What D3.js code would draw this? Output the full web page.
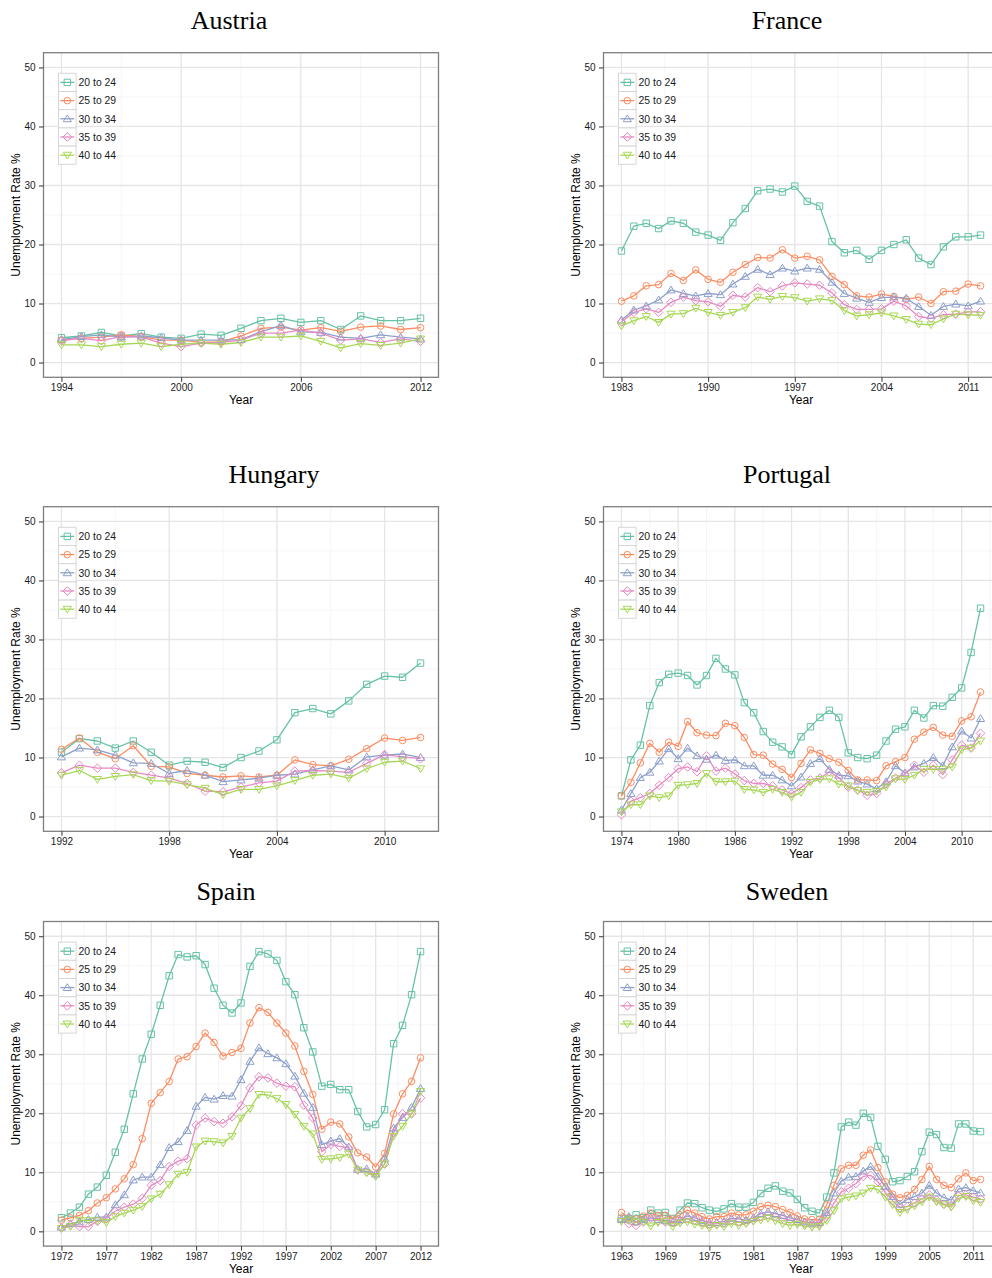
<!DOCTYPE html>
<html>
<head>
<meta charset="utf-8">
<script src="https://cdn.jsdelivr.net/npm/d3@7"></script>
<style>
  body { margin: 0; background: #fff; }
  svg { display: block; }
</style>
</head>
<body>
<svg id="chart" width="992" height="1278"></svg>
<script>
// ---- Age groups and their colours (ColorBrewer Set2) ----
const ageGroups = ["20 to 24", "25 to 29", "30 to 34", "35 to 39", "40 to 44"];
const seriesColors = ["#66c2a5", "#fc8d62", "#8da0cb", "#e78ac3", "#a6d854"];
const yTicks = [0, 10, 20, 30, 40, 50];

// ---- Austria, 1994-2012 ----
const austriaYears = d3.range(1994, 2013);
const austriaTicks = [1994, 2000, 2006, 2012];
const austria20to24 = [4.2, 4.5, 5.1, 4.5, 4.9, 4.3, 4.1, 4.8, 4.6, 5.8, 7.1, 7.5, 6.8, 7.1, 5.6, 7.9, 7.1, 7.1, 7.5];
const austria25to29 = [3.8, 4.1, 4.3, 4.7, 4.4, 3.8, 3.8, 3.4, 3.5, 4.5, 5.8, 6.0, 5.5, 5.9, 5.3, 6.0, 6.2, 5.6, 5.9];
const austria30to34 = [3.9, 4.4, 4.7, 4.3, 4.5, 4.2, 3.8, 3.8, 3.8, 3.9, 5.2, 6.3, 5.2, 5.1, 4.3, 4.1, 4.7, 4.3, 4.0];
const austria35to39 = [3.7, 4.1, 3.7, 4.4, 4.3, 3.3, 2.7, 3.3, 3.4, 3.8, 5.0, 5.0, 5.5, 5.0, 3.8, 4.0, 3.4, 4.0, 3.6];
const austria40to44 = [3.0, 3.0, 2.7, 3.1, 3.3, 2.7, 3.1, 3.3, 3.1, 3.4, 4.3, 4.3, 4.5, 3.6, 2.5, 3.2, 2.9, 3.3, 4.0];

// ---- France, 1983-2012 ----
const franceYears = d3.range(1983, 2013);
const franceTicks = [1983, 1990, 1997, 2004, 2011];
const france20to24 = [18.9, 23.1, 23.6, 22.7, 24.0, 23.6, 22.1, 21.6, 20.7, 23.7, 26.1, 29.1, 29.4, 28.9, 29.9, 27.3, 26.5, 20.5, 18.6, 19.0, 17.5, 19.0, 20.0, 20.8, 17.7, 16.6, 19.6, 21.3, 21.3, 21.6];
const france25to29 = [10.4, 11.3, 13.0, 13.2, 15.1, 13.9, 15.7, 14.1, 13.6, 15.3, 16.6, 17.8, 17.7, 19.1, 17.7, 18.0, 17.4, 14.6, 13.2, 11.3, 11.1, 11.6, 11.2, 10.7, 11.1, 10.0, 12.0, 12.1, 13.3, 13.0];
const france30to34 = [7.2, 8.9, 9.6, 10.6, 12.3, 11.7, 11.3, 11.7, 11.5, 13.3, 14.6, 15.8, 14.9, 16.0, 15.5, 16.0, 15.8, 13.6, 11.7, 10.9, 10.2, 11.0, 11.1, 10.9, 9.5, 8.0, 9.5, 9.9, 9.6, 10.4];
const france35to39 = [6.9, 8.5, 9.1, 8.5, 10.2, 11.1, 10.5, 10.3, 9.5, 11.4, 11.1, 12.7, 12.0, 13.0, 13.5, 13.3, 13.1, 11.8, 9.8, 9.0, 9.0, 9.1, 10.4, 9.6, 7.8, 7.5, 8.1, 8.2, 8.6, 8.6];
const france40to44 = [6.2, 7.1, 7.8, 6.8, 8.2, 8.3, 9.2, 8.5, 8.0, 8.5, 9.3, 11.1, 10.7, 11.2, 11.0, 10.4, 10.8, 10.5, 8.8, 7.9, 8.1, 8.4, 7.9, 7.3, 6.5, 6.4, 7.4, 8.2, 8.1, 8.0];

// ---- Hungary, 1992-2012 ----
const hungaryYears = d3.range(1992, 2013);
const hungaryTicks = [1992, 1998, 2004, 2010];
const hungary20to24 = [10.9, 13.2, 12.8, 11.6, 12.8, 10.9, 8.7, 9.4, 9.2, 8.3, 10.0, 11.1, 13.0, 17.6, 18.3, 17.4, 19.6, 22.4, 23.8, 23.6, 26.0];
const hungary25to29 = [11.4, 13.3, 10.9, 9.8, 12.0, 8.5, 8.4, 7.3, 7.0, 6.7, 6.9, 6.7, 7.0, 9.6, 8.8, 8.6, 9.7, 11.5, 13.3, 12.9, 13.4];
const hungary30to34 = [10.1, 11.6, 11.3, 10.4, 9.1, 9.0, 7.3, 7.8, 7.0, 5.9, 6.2, 6.5, 7.0, 7.2, 7.9, 8.6, 7.9, 10.1, 10.4, 10.6, 10.0];
const hungary35to39 = [7.4, 8.7, 8.2, 8.2, 7.5, 7.0, 6.5, 5.6, 4.3, 4.2, 5.0, 5.7, 6.0, 7.7, 7.8, 7.7, 7.5, 9.0, 10.5, 10.1, 9.8];
const hungary40to44 = [7.0, 7.8, 6.3, 6.8, 7.1, 6.1, 6.0, 5.4, 4.8, 3.7, 4.6, 4.6, 5.2, 6.1, 7.0, 7.2, 6.5, 8.1, 9.2, 9.4, 8.1];

// ---- Portugal, 1974-2012 ----
const portugalYears = d3.range(1974, 2013);
const portugalTicks = [1974, 1980, 1986, 1992, 1998, 2004, 2010];
const portugal20to24 = [3.5, 9.6, 12.1, 18.8, 22.7, 24.1, 24.3, 23.9, 22.3, 23.9, 26.8, 25.0, 24.0, 19.3, 17.6, 14.4, 12.6, 11.8, 10.5, 13.5, 15.2, 16.8, 18.0, 16.8, 10.8, 10.0, 9.8, 10.4, 12.8, 14.8, 15.2, 18.0, 16.7, 18.8, 18.7, 20.2, 21.8, 27.8, 35.3];
const portugal25to29 = [3.5, 5.8, 9.1, 12.4, 10.9, 12.6, 11.9, 16.1, 14.2, 13.8, 13.7, 15.8, 15.4, 13.4, 10.5, 10.4, 8.9, 8.0, 6.6, 9.0, 11.3, 10.7, 9.8, 9.2, 7.8, 6.2, 6.2, 6.1, 8.6, 9.3, 10.0, 13.1, 14.3, 15.1, 13.8, 13.6, 16.2, 16.9, 21.1];
const portugal30to34 = [1.1, 3.9, 6.6, 7.5, 9.4, 11.5, 9.8, 11.6, 10.3, 9.7, 10.4, 9.5, 9.6, 8.6, 8.6, 7.0, 7.0, 6.2, 5.2, 6.7, 9.0, 9.8, 8.0, 7.0, 6.9, 6.0, 5.5, 4.7, 5.9, 8.6, 7.4, 8.4, 9.0, 10.0, 8.6, 11.8, 14.5, 13.3, 16.6];
const portugal35to39 = [0.3, 2.6, 3.2, 3.9, 5.3, 6.6, 8.1, 8.4, 7.6, 10.3, 7.7, 8.2, 7.2, 6.1, 5.6, 5.6, 5.2, 4.5, 3.9, 4.9, 6.2, 6.5, 7.6, 6.6, 5.0, 4.5, 3.6, 3.9, 5.5, 6.5, 7.2, 8.7, 7.5, 8.7, 7.1, 9.6, 12.1, 11.6, 14.1];
const portugal40to44 = [0.8, 2.0, 2.0, 3.5, 3.2, 3.5, 5.3, 5.4, 5.6, 7.3, 5.9, 5.9, 6.0, 4.6, 4.5, 4.1, 4.6, 4.1, 3.3, 4.1, 5.8, 6.3, 6.4, 5.5, 5.2, 4.4, 4.1, 4.3, 5.0, 6.4, 6.3, 7.0, 8.0, 8.0, 8.0, 8.4, 11.3, 11.6, 12.8];

// ---- Spain, 1972-2012 ----
const spainYears = d3.range(1972, 2013);
const spainTicks = [1972, 1977, 1982, 1987, 1992, 1997, 2002, 2007, 2012];
const spain20to24 = [2.3, 3.1, 4.1, 6.3, 7.5, 9.5, 13.4, 17.3, 23.3, 29.2, 33.4, 38.3, 43.3, 46.9, 46.5, 46.7, 45.2, 41.2, 38.3, 37.0, 38.7, 44.9, 47.4, 47.0, 45.9, 42.3, 40.1, 34.5, 30.4, 24.6, 24.9, 24.0, 24.0, 20.3, 17.7, 18.1, 20.6, 31.8, 34.9, 40.1, 47.4];
const spain25to29 = [1.9, 2.3, 2.7, 3.5, 4.8, 5.7, 7.2, 8.9, 11.3, 15.7, 21.7, 23.5, 25.4, 29.2, 29.6, 31.3, 33.6, 32.0, 29.7, 30.3, 31.0, 35.3, 37.9, 37.1, 35.3, 33.6, 31.4, 27.1, 23.2, 17.3, 18.5, 18.2, 16.0, 13.3, 12.6, 10.9, 13.2, 19.9, 23.3, 25.4, 29.4];
const spain30to34 = [0.7, 1.3, 1.6, 2.0, 2.4, 2.4, 4.5, 6.2, 8.7, 9.2, 9.2, 11.3, 14.2, 15.2, 17.1, 21.2, 22.7, 22.4, 23.0, 22.9, 25.7, 28.8, 31.1, 30.1, 29.4, 28.4, 26.3, 23.4, 21.0, 14.7, 15.3, 15.7, 14.3, 10.5, 10.6, 9.7, 12.3, 17.5, 19.3, 21.0, 24.2];
const spain35to39 = [0.6, 1.1, 0.8, 0.8, 1.7, 2.2, 3.4, 4.1, 4.6, 5.6, 7.8, 8.6, 11.0, 11.9, 12.3, 18.0, 19.2, 18.6, 18.3, 19.4, 21.3, 24.3, 26.2, 26.0, 25.1, 24.6, 24.5, 21.4, 19.2, 13.5, 14.7, 14.4, 14.1, 10.4, 10.1, 9.6, 11.4, 16.7, 19.9, 19.9, 22.6];
const spain40to44 = [0.5, 0.8, 1.9, 1.8, 1.8, 1.5, 2.5, 3.1, 3.6, 4.2, 5.5, 6.3, 7.9, 9.7, 10.0, 14.3, 15.3, 15.2, 15.0, 16.1, 19.2, 20.8, 23.2, 23.1, 22.5, 21.5, 19.8, 17.8, 16.5, 12.2, 12.3, 12.5, 13.1, 10.4, 9.9, 9.3, 11.4, 16.1, 17.8, 19.9, 23.7];

// ---- Sweden, 1963-2012 ----
const swedenYears = d3.range(1963, 2013);
const swedenTicks = [1963, 1969, 1975, 1981, 1987, 1993, 1999, 2005, 2011];
const sweden20to24 = [2.2, 2.1, 2.8, 2.3, 3.6, 3.1, 3.2, 2.2, 3.6, 4.8, 4.7, 4.0, 3.6, 3.4, 3.8, 4.7, 4.1, 4.1, 4.9, 6.4, 7.3, 7.7, 6.8, 6.5, 5.4, 4.0, 3.4, 3.1, 5.8, 9.9, 17.7, 18.5, 18.0, 20.0, 19.3, 14.4, 12.2, 8.4, 8.6, 9.3, 10.1, 13.5, 16.8, 16.4, 14.2, 14.1, 18.2, 18.2, 17.0, 16.9];
const sweden25to29 = [3.2, 2.3, 2.1, 2.6, 3.1, 2.7, 2.7, 2.1, 2.8, 3.6, 3.1, 2.5, 2.1, 2.5, 2.5, 3.1, 2.8, 2.8, 3.4, 4.2, 4.4, 4.2, 3.7, 3.2, 2.6, 2.1, 2.0, 2.0, 4.5, 7.8, 10.6, 11.2, 11.2, 12.9, 13.8, 10.8, 8.4, 6.3, 5.7, 6.1, 7.1, 8.8, 11.0, 8.8, 7.8, 7.4, 8.9, 9.9, 8.6, 8.8];
const sweden30to34 = [2.0, 2.5, 1.6, 2.0, 2.3, 2.0, 1.8, 1.5, 2.0, 2.6, 2.3, 1.8, 1.5, 1.5, 1.7, 2.2, 2.1, 1.9, 2.3, 3.0, 3.3, 3.0, 2.7, 2.3, 2.0, 1.6, 1.4, 1.5, 3.2, 6.5, 8.5, 9.2, 9.3, 10.2, 11.0, 9.3, 7.6, 5.9, 4.6, 5.4, 5.9, 6.5, 7.8, 6.5, 5.7, 5.3, 7.2, 7.4, 6.9, 6.5];
const sweden35to39 = [1.9, 1.3, 1.0, 1.6, 2.2, 1.8, 1.6, 1.6, 1.7, 2.2, 1.9, 1.5, 1.2, 1.3, 1.4, 1.9, 1.6, 1.5, 1.9, 2.5, 2.8, 2.5, 2.2, 1.9, 1.5, 1.3, 1.0, 1.2, 2.6, 4.8, 6.7, 7.3, 8.1, 9.3, 9.5, 8.4, 6.6, 5.2, 4.0, 4.2, 4.8, 5.5, 6.2, 5.3, 4.6, 4.4, 6.0, 6.2, 5.8, 5.5];
const sweden40to44 = [1.7, 1.9, 1.6, 1.6, 0.9, 1.5, 1.7, 0.8, 1.4, 1.6, 1.2, 1.0, 0.6, 1.0, 0.8, 1.3, 1.0, 1.3, 1.7, 1.9, 2.2, 1.8, 1.3, 1.0, 1.2, 0.9, 0.7, 0.8, 1.8, 3.5, 5.5, 5.8, 6.0, 6.5, 7.3, 7.1, 5.8, 4.5, 3.2, 3.7, 4.3, 5.0, 5.8, 5.0, 4.5, 4.1, 5.6, 5.9, 5.2, 4.9];

// ---- Panel arrangement ----
const panels = [
  { title: "Austria",  years: austriaYears,  ticks: austriaTicks,  col: 0, row: 0, titleX: 229,
    series: [austria20to24, austria25to29, austria30to34, austria35to39, austria40to44] },
  { title: "France",   years: franceYears,   ticks: franceTicks,   col: 1, row: 0, titleX: 787,
    series: [france20to24, france25to29, france30to34, france35to39, france40to44] },
  { title: "Hungary",  years: hungaryYears,  ticks: hungaryTicks,  col: 0, row: 1, titleX: 274,
    series: [hungary20to24, hungary25to29, hungary30to34, hungary35to39, hungary40to44] },
  { title: "Portugal", years: portugalYears, ticks: portugalTicks, col: 1, row: 1, titleX: 787,
    series: [portugal20to24, portugal25to29, portugal30to34, portugal35to39, portugal40to44] },
  { title: "Spain",    years: spainYears,    ticks: spainTicks,    col: 0, row: 2, titleX: 226,
    series: [spain20to24, spain25to29, spain30to34, spain35to39, spain40to44] },
  { title: "Sweden",   years: swedenYears,   ticks: swedenTicks,   col: 1, row: 2, titleX: 787,
    series: [sweden20to24, sweden25to29, sweden30to34, sweden35to39, sweden40to44] }
];

// ---- Geometry ----
const colOffset = [0, 560];
const plotLeft = 43.5, plotW = 395;
const rowTop = [52.7, 506.7, 921.5];
const plotH = 324.6;
const titleBaseline = [28.5, 482.5, 899.5];
const pageBottom = 1278;

const sansFont = "'Liberation Sans', Arial, Helvetica, sans-serif";
const serifFont = "'Liberation Serif', 'Times New Roman', serif";

// Open point shapes: square, circle, triangle, diamond, inverted triangle
function shapePath(i) {
  switch (i) {
    case 0: { const s = 3.2; return `M${-s},${-s}H${s}V${s}H${-s}Z`; }
    case 1: { const r = 3.3; return `M${r},0A${r},${r} 0 1,1 ${-r},0A${r},${r} 0 1,1 ${r},0Z`; }
    case 2: { const h = 3.9, w = 4.1; return `M0,${-h}L${w},${h * 0.75}L${-w},${h * 0.75}Z`; }
    case 3: { const d = 4.3; return `M0,${-d}L${d},0L0,${d}L${-d},0Z`; }
    default: { const h = 3.9, w = 4.1; return `M0,${h}L${w},${-h * 0.75}L${-w},${-h * 0.75}Z`; }
  }
}

// Minor breaks: midpoints of the major breaks, extended one step each side, kept within limits
function minorBreaks(major, lo, hi) {
  const step = major[1] - major[0];
  const ext = [major[0] - step, ...major, major[major.length - 1] + step];
  const out = [];
  for (let i = 0; i < ext.length - 1; i++) {
    const m = (ext[i] + ext[i + 1]) / 2;
    if (m >= lo && m <= hi) out.push(m);
  }
  return out;
}

const svg = d3.select("#chart");
svg.append("rect").attr("width", 992).attr("height", 1278).attr("fill", "#fff");

panels.forEach(p => {
  const ox = colOffset[p.col];
  const left = ox + plotLeft;
  const top = rowTop[p.row];
  const bottom = top + plotH;
  const right = left + plotW;

  const first = p.years[0], last = p.years[p.years.length - 1];
  const pad = (last - first) * 0.05;
  const x = d3.scaleLinear().domain([first - pad, last + pad]).range([left, right]);
  const y = d3.scaleLinear().domain([-2.5, 52.5]).range([bottom, top]);

  const g = svg.append("g");

  // Title
  g.append("text")
    .attr("x", p.titleX).attr("y", titleBaseline[p.row])
    .attr("text-anchor", "middle")
    .attr("font-family", serifFont).attr("font-size", 26)
    .attr("fill", "#000")
    .text(p.title);

  // Panel background
  g.append("rect").attr("x", left).attr("y", top).attr("width", plotW).attr("height", plotH).attr("fill", "#fff");

  const clipId = "clip-" + p.title;
  g.append("clipPath").attr("id", clipId)
    .append("rect").attr("x", left).attr("y", top).attr("width", plotW).attr("height", plotH);
  const inner = g.append("g").attr("clip-path", `url(#${clipId})`);

  // Minor grid
  const xDom = x.domain();
  minorBreaks(yTicks, -2.5, 52.5).forEach(v => {
    inner.append("line").attr("x1", left).attr("x2", right).attr("y1", y(v)).attr("y2", y(v))
      .attr("stroke", "#f4f4f4").attr("stroke-width", 0.9);
  });
  minorBreaks(p.ticks, xDom[0], xDom[1]).forEach(v => {
    inner.append("line").attr("x1", x(v)).attr("x2", x(v)).attr("y1", top).attr("y2", bottom)
      .attr("stroke", "#f4f4f4").attr("stroke-width", 0.9);
  });
  // Major grid
  yTicks.forEach(v => {
    inner.append("line").attr("x1", left).attr("x2", right).attr("y1", y(v)).attr("y2", y(v))
      .attr("stroke", "#e5e5e5").attr("stroke-width", 1.3);
  });
  p.ticks.forEach(v => {
    inner.append("line").attr("x1", x(v)).attr("x2", x(v)).attr("y1", top).attr("y2", bottom)
      .attr("stroke", "#e5e5e5").attr("stroke-width", 1.3);
  });

  // Lines, then points, in age-group order
  const line = d3.line().x((d, i) => x(p.years[i])).y(d => y(d));
  p.series.forEach((vals, k) => {
    inner.append("path").datum(vals)
      .attr("d", line)
      .attr("fill", "none")
      .attr("stroke", seriesColors[k])
      .attr("stroke-width", 1.3)
      .attr("stroke-linejoin", "round");
  });
  p.series.forEach((vals, k) => {
    inner.append("g").selectAll("path").data(vals).join("path")
      .attr("transform", (d, i) => `translate(${x(p.years[i])},${y(d)})`)
      .attr("d", shapePath(k))
      .attr("fill", "none")
      .attr("stroke", seriesColors[k])
      .attr("stroke-width", 1);
  });

  // Panel border
  g.append("rect").attr("x", left).attr("y", top).attr("width", plotW).attr("height", plotH)
    .attr("fill", "none").attr("stroke", "#7f7f7f").attr("stroke-width", 1.3);

  // Y axis
  const yAxis = d3.axisLeft(y).tickValues(yTicks).tickSize(4.5).tickPadding(3.5).tickFormat(d3.format("d"));
  const ya = g.append("g").attr("transform", `translate(${left},0)`).call(yAxis);
  ya.select(".domain").remove();
  ya.selectAll(".tick line").attr("stroke", "#333").attr("stroke-width", 1);
  ya.selectAll(".tick text").attr("font-family", sansFont).attr("font-size", 10).attr("fill", "#1a1a1a");

  // X axis
  const xAxis = d3.axisBottom(x).tickValues(p.ticks).tickSize(4.5).tickPadding(2.5).tickFormat(d3.format("d"));
  const xa = g.append("g").attr("transform", `translate(0,${bottom})`).call(xAxis);
  xa.select(".domain").remove();
  xa.selectAll(".tick line").attr("stroke", "#333").attr("stroke-width", 1);
  xa.selectAll(".tick text").attr("font-family", sansFont).attr("font-size", 10).attr("fill", "#1a1a1a");

  // Axis titles (the bottom row's "Year" is kept inside the page)
  g.append("text")
    .attr("x", (left + right) / 2).attr("y", Math.min(bottom + 27, pageBottom - 3.5))
    .attr("text-anchor", "middle")
    .attr("font-family", sansFont).attr("font-size", 12).attr("fill", "#000")
    .text("Year");
  g.append("text")
    .attr("transform", `translate(${ox + 15.8},${(top + bottom) / 2}) rotate(-90)`)
    .attr("text-anchor", "middle").attr("dy", "0.36em")
    .attr("font-family", sansFont).attr("font-size", 12).attr("fill", "#000")
    .text("Unemployment Rate %");

  // Legend inside the panel, top-left
  const lg = g.append("g").attr("transform", `translate(${left + 15},${top + 20.6})`);
  const keyW = 17.6, keyH = 18.2;
  ageGroups.forEach((name, k) => {
    const row = lg.append("g").attr("transform", `translate(0,${k * keyH})`);
    row.append("rect").attr("width", keyW).attr("height", keyH)
      .attr("fill", "#fff").attr("stroke", "#d6d6d6").attr("stroke-width", 1);
    row.append("line").attr("x1", 1.8).attr("x2", keyW - 1.8).attr("y1", keyH / 2).attr("y2", keyH / 2)
      .attr("stroke", seriesColors[k]).attr("stroke-width", 1.3);
    row.append("path").attr("transform", `translate(${keyW / 2},${keyH / 2})`)
      .attr("d", shapePath(k)).attr("fill", "none")
      .attr("stroke", seriesColors[k]).attr("stroke-width", 1);
    row.append("text").attr("x", keyW + 2.5).attr("y", keyH / 2).attr("dy", "0.36em")
      .attr("font-family", sansFont).attr("font-size", 10.4).attr("fill", "#1a1a1a")
      .text(name);
  });
});
</script>
</body>
</html>
